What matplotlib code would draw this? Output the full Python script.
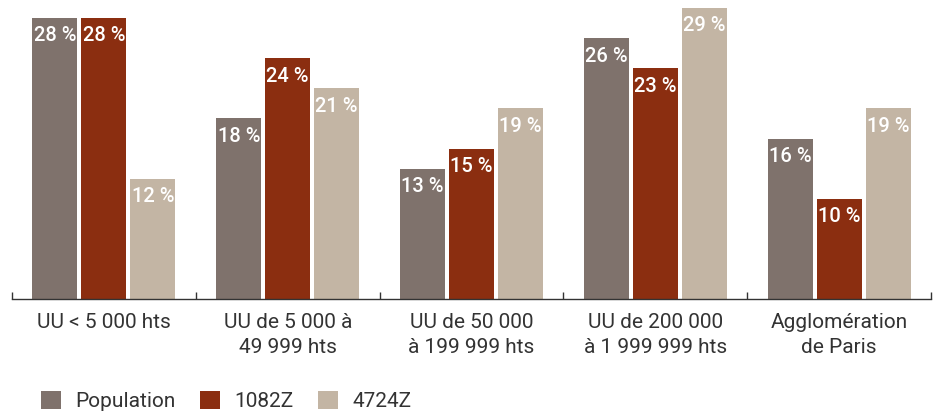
import matplotlib
matplotlib.use("Agg")
import matplotlib.pyplot as plt
import numpy as np
from matplotlib.patches import Patch

categories = ["UU < 5 000 hts", "UU de 5 000 à\n49 999 hts", "UU de 50 000\nà 199 999 hts",
              "UU de 200 000\nà 1 999 999 hts", "Agglomération\nde Paris"]
series_names = ["Population", "1082Z", "4724Z"]
population = [28, 18, 13, 26, 16]
s1082z = [28, 24, 15, 23, 10]
s4724z = [12, 21, 19, 29, 19]
colors = ["#7f726c", "#8b2e10", "#c3b5a4"]

plt.rcParams['font.family'] = ['Roboto', 'DejaVu Sans']

W, H = 939, 415
fig = plt.figure(figsize=(W / 100, H / 100), dpi=100)
ax = fig.add_axes([12 / W, (H - 299) / H, (931 - 12) / W, 299 / H])

x = np.arange(len(categories))
bw = 45 / 184
step = 49 / 184
for i, (vals, c) in enumerate(zip([population, s1082z, s4724z], colors)):
    pos = x + (i - 1) * step
    bars = ax.bar(pos, vals, width=bw, color=c, zorder=2)
    for b, v in zip(bars, vals):
        ax.annotate(f"{v} %", (b.get_x() + b.get_width() / 2, v), xytext=(0, -6),
                    textcoords="offset points", ha="center", va="top",
                    color="white", fontsize=14.5, fontweight="medium")

ax.set_xlim(-0.5, len(categories) - 0.5)
ax.set_ylim(0, 299 / 10.03)
ax.set_xticks(x)
ax.set_xticklabels(categories, fontsize=15, color="#333333", linespacing=1.4)
ax.tick_params(axis="x", which="major", length=0, pad=10)
ax.set_xticks(np.arange(-0.5, len(categories)), minor=True)
ax.tick_params(axis="x", which="minor", length=5, direction="in", width=1, color="#333333")
ax.set_yticks([])
for s in ["top", "right", "left"]:
    ax.spines[s].set_visible(False)
ax.spines["bottom"].set_color("#333333")
ax.spines["bottom"].set_linewidth(1)

handles = [Patch(facecolor=c, label=n) for c, n in zip(colors, series_names)]
fig.legend(handles=handles, loc="center left", bbox_to_anchor=(22 / W, 1 - 401 / H),
           ncol=3, frameon=False, fontsize=15, handlelength=0.95, handleheight=0.95,
           handletextpad=0.72, columnspacing=1.15, labelcolor="#333333")

fig.savefig("out.png", dpi=100)
